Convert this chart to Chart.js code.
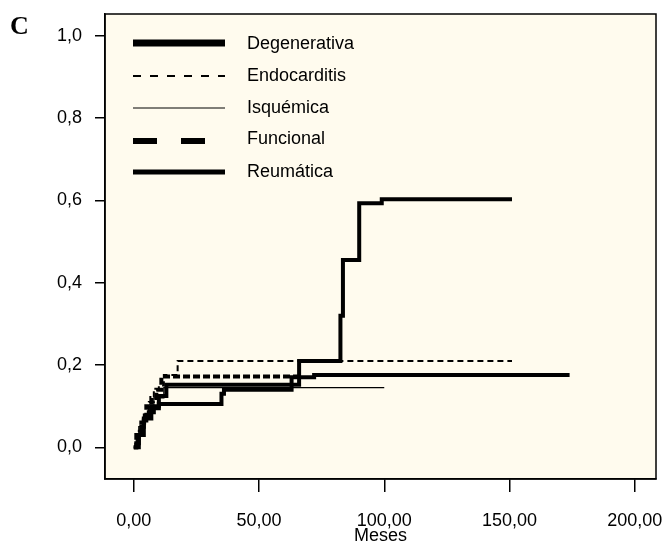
<!DOCTYPE html>
<html>
<head>
<meta charset="utf-8">
<script src="https://cdn.jsdelivr.net/npm/chart.js@4/dist/chart.umd.min.js"></script>
<style>
  html, body { margin: 0; padding: 0; background: #fff; }
  #wrap { position: relative; width: 665px; height: 548px; }
  #panel { position: absolute; left: 10px; top: 13px; font: bold 26px "Liberation Serif", serif; line-height: 26px; }
</style>
</head>
<body>
<div id="wrap">
  <canvas id="myChart" width="665" height="548"></canvas>
  <div id="panel">C</div>
</div>
<script>
'use strict';

// series names (legend order)
const seriesNames = ['Degenerativa', 'Endocarditis', 'Isquémica', 'Funcional', 'Reumática'];

// Kaplan-Meier steps: months / cumulative incidence
const degMonths = [0, 1, 2, 3, 4, 5, 6, 8, 10, 35, 36, 63, 72, 174];
const degRisk   = [0, 0.01, 0.03, 0.05, 0.065, 0.075, 0.085, 0.095, 0.105, 0.13, 0.14, 0.17, 0.176, 0.176];

const endoMonths = [0, 2, 4, 6, 8, 10, 12, 17.5, 151];
const endoRisk   = [0, 0.04, 0.08, 0.11, 0.14, 0.15, 0.176, 0.21, 0.21];

const isqMonths = [0, 1, 2, 4, 6, 8, 12, 100];
const isqRisk   = [0, 0.02, 0.05, 0.08, 0.1, 0.12, 0.145, 0.145];

const funMonths = [0, 1, 3, 5, 7, 9, 11, 66];
const funRisk   = [0, 0.03, 0.06, 0.1, 0.12, 0.14, 0.172, 0.172];

const reuMonths = [0, 2, 4, 7, 10, 13, 66, 82.5, 83.5, 90, 99, 151];
const reuRisk   = [0, 0.03, 0.07, 0.1, 0.125, 0.152, 0.21, 0.32, 0.455, 0.593, 0.603, 0.603];

// axis ticks
const xTicks = [0, 50, 100, 150, 200];
const yTicks = [0, 0.2, 0.4, 0.6, 0.8, 1.0];

function pts(xs, ys) {
    return xs.map((x, i) => ({ x: x, y: ys[i] }));
}

const FONT = '"Liberation Sans", Arial, sans-serif';

// legend line styles (as drawn in the figure's key)
const legendStyle = [
    { width: 7, dash: [] },
    { width: 2, dash: [8, 9] },
    { width: 1, dash: [] },
    { width: 6, dash: [24, 24] },
    { width: 5, dash: [] }
];

const bgPlugin = {
    id: 'bgPlugin',
    beforeDraw(chart) {
        const a = chart.chartArea, c = chart.ctx;
        c.save();
        c.fillStyle = '#fffbee';
        c.fillRect(a.left, a.top, a.right - a.left, a.bottom - a.top);
        c.restore();
    },
    afterDraw(chart) {
        const a = chart.chartArea, c = chart.ctx;
        c.save();
        c.strokeStyle = '#000';
        c.lineWidth = 1.5;
        c.strokeRect(a.left, a.top, a.right - a.left, a.bottom - a.top);
        // key
        const lineY = [43, 76, 108, 141, 172];
        const textY = [44, 76, 108, 139, 172];
        c.font = '18px ' + FONT;
        c.textBaseline = 'middle';
        c.fillStyle = '#000';
        seriesNames.forEach((name, i) => {
            c.beginPath();
            c.lineWidth = legendStyle[i].width;
            c.setLineDash(legendStyle[i].dash);
            c.moveTo(133, lineY[i]);
            c.lineTo(225, lineY[i]);
            c.stroke();
            c.setLineDash([]);
            c.fillText(name, 247, textY[i]);
        });
        c.restore();
    }
};

const ctx = document.getElementById('myChart');

const myChart = new Chart(ctx, {
    type: 'line',
    data: {
        datasets: [{
            label: seriesNames[0],
            data: pts(degMonths, degRisk),
            borderColor: '#000',
            borderWidth: 4
        },
        {
            label: seriesNames[1],
            data: pts(endoMonths, endoRisk),
            borderColor: '#000',
            borderWidth: 2,
            borderDash: [6, 4]
        },
        {
            label: seriesNames[2],
            data: pts(isqMonths, isqRisk),
            borderColor: '#000',
            borderWidth: 1.3
        },
        {
            label: seriesNames[3],
            data: pts(funMonths, funRisk),
            borderColor: '#000',
            borderWidth: 4,
            borderDash: [7, 3]
        },
        {
            label: seriesNames[4],
            data: pts(reuMonths, reuRisk),
            borderColor: '#000',
            borderWidth: 4
        }
        ]
    },
    options: {
        responsive: false,
        animation: false,
        parsing: false,
        elements: {
            point: { radius: 0 },
            line: { stepped: true, borderCapStyle: 'butt', borderJoinStyle: 'miter' }
        },
        layout: { padding: { top: 14, right: 9, left: 0, bottom: 0 } },
        plugins: {
            legend: { display: false },
            tooltip: { enabled: false }
        },
        scales: {
            x: {
                type: 'linear',
                min: -11.5,
                max: 208.5,
                afterBuildTicks: s => { s.ticks = xTicks.map(v => ({ value: v })); },
                afterFit: s => { s.height = 69; s.paddingLeft = 0; s.paddingRight = 0; },
                border: { color: '#000', width: 1.5 },
                grid: { drawOnChartArea: false, drawTicks: true, tickLength: 13, color: '#000', lineWidth: 1.5 },
                ticks: {
                    padding: 18,
                    color: '#000',
                    font: { family: FONT, size: 18 },
                    maxRotation: 0,
                    callback: v => v.toFixed(2).replace('.', ',')
                },
                title: {
                    display: true,
                    text: 'Meses',
                    color: '#000',
                    font: { family: FONT, size: 18 },
                    padding: { top: 0, bottom: 1 }
                }
            },
            y: {
                type: 'linear',
                min: -0.077,
                max: 1.053,
                afterBuildTicks: s => { s.ticks = yTicks.map(v => ({ value: v })); },
                afterFit: s => { s.width = 105; s.paddingTop = 0; s.paddingBottom = 0; },
                border: { color: '#000', width: 1.5 },
                grid: { drawOnChartArea: false, drawTicks: true, tickLength: 10, color: '#000', lineWidth: 1.5 },
                ticks: {
                    padding: 13,
                    color: '#000',
                    font: { family: FONT, size: 18 },
                    callback: v => v.toFixed(1).replace('.', ',')
                }
            }
        }
    },
    plugins: [bgPlugin]
});
</script>
</body>
</html>
